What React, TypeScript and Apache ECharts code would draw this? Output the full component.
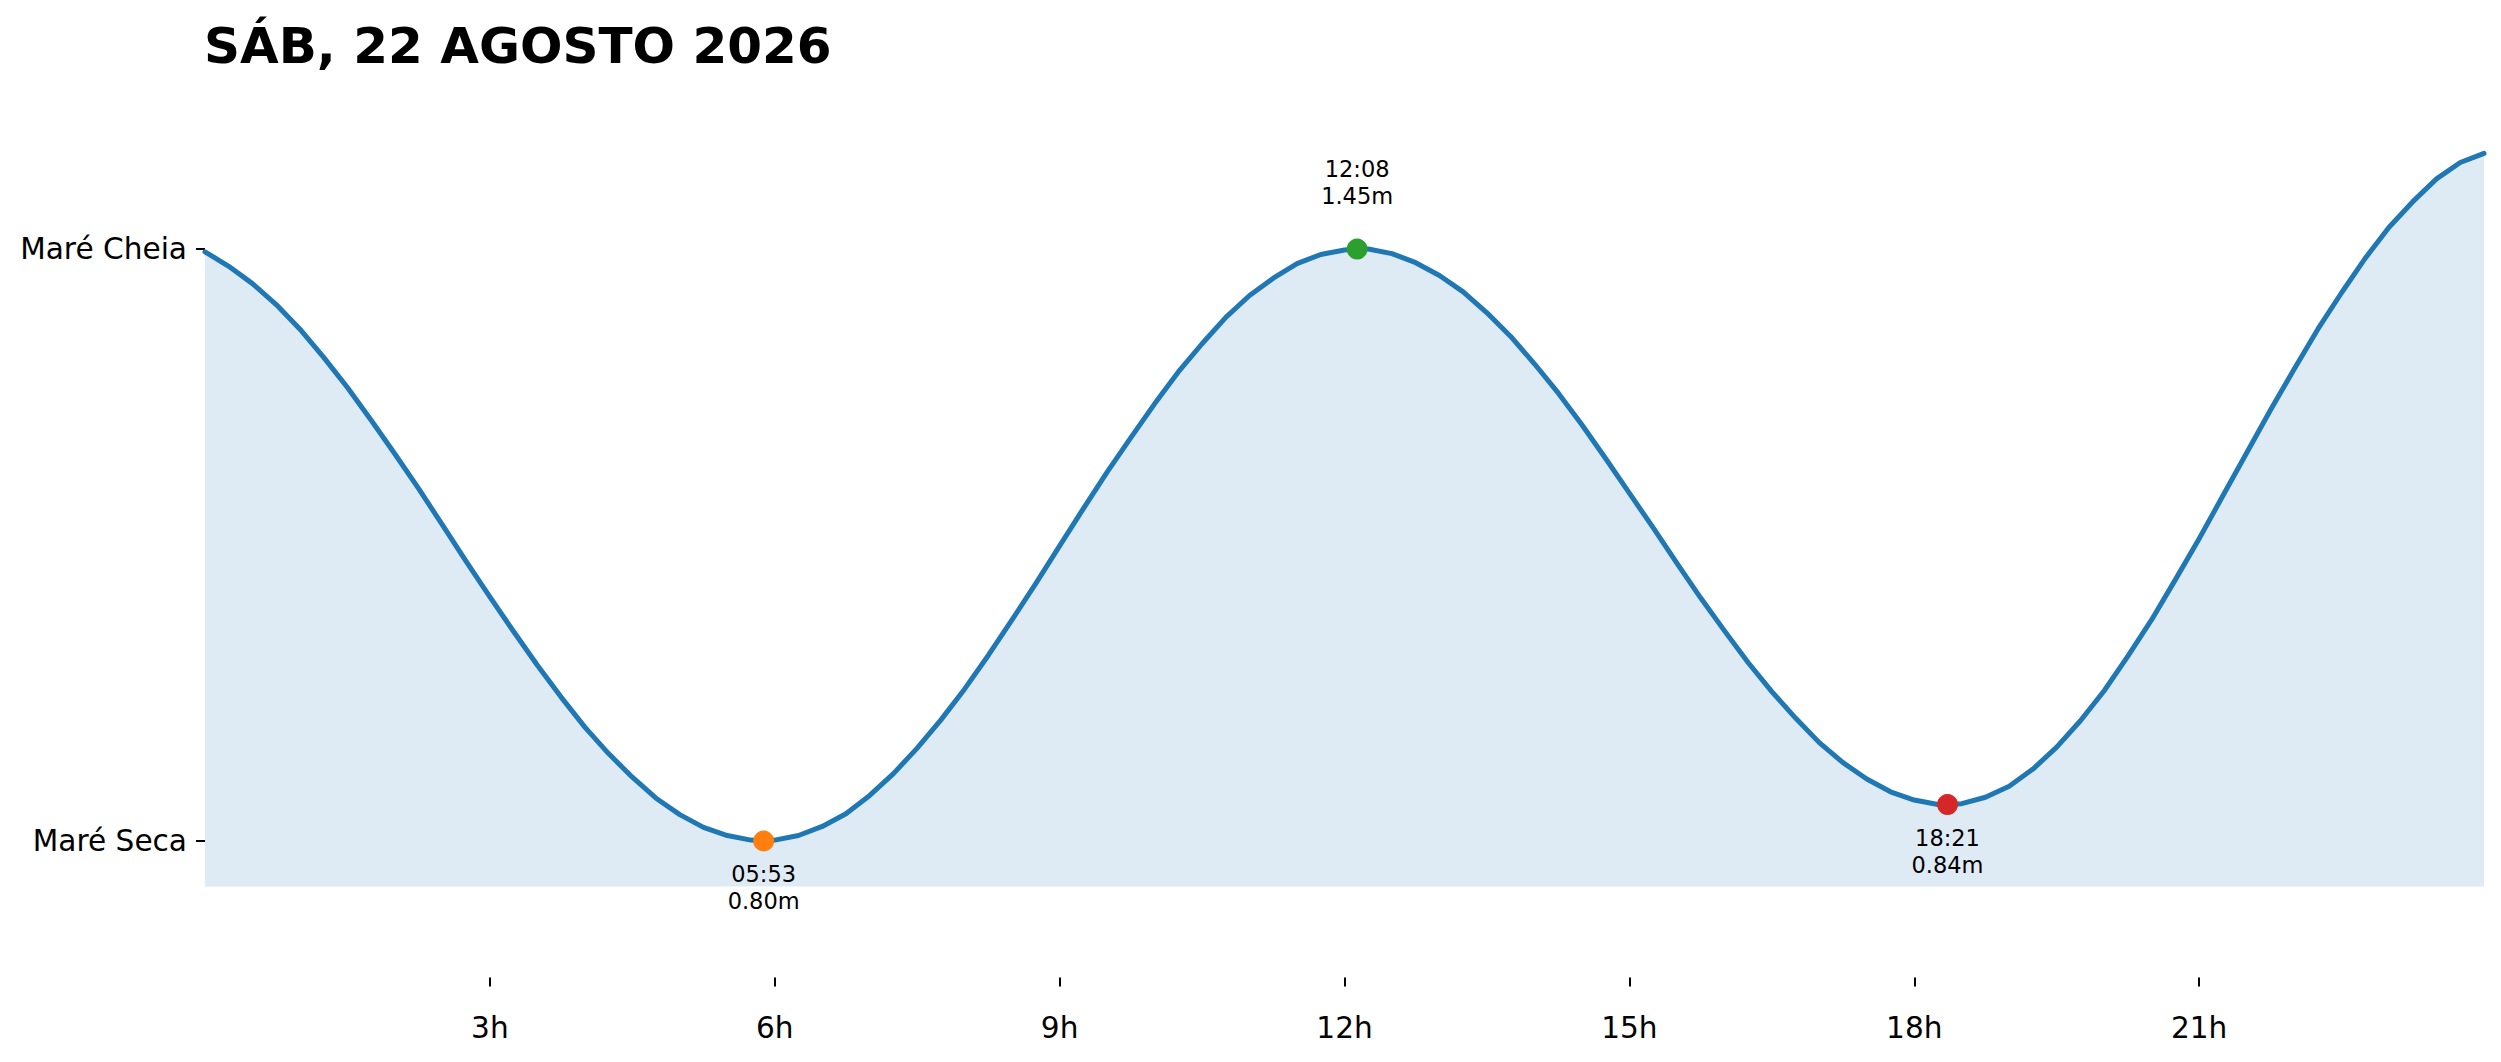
import React, { useEffect, useRef } from "react";
import * as echarts from "echarts";

const chartTitle = "SÁB, 22 AGOSTO 2026";

// Tide curve (hours, metres)
const times = [
  0, 0.25, 0.5, 0.75, 1, 1.25, 1.5, 1.75, 2, 2.25, 2.5, 2.75, 3, 3.25, 3.5, 3.75,
  4, 4.25, 4.5, 4.75, 5, 5.25, 5.5, 5.75, 5.883, 6, 6.25, 6.5, 6.75, 7, 7.25, 7.5,
  7.75, 8, 8.25, 8.5, 8.75, 9, 9.25, 9.5, 9.75, 10, 10.25, 10.5, 10.75, 11, 11.25,
  11.5, 11.75, 12, 12.133, 12.25, 12.5, 12.75, 13, 13.25, 13.5, 13.75, 14, 14.25,
  14.5, 14.75, 15, 15.25, 15.5, 15.75, 16, 16.25, 16.5, 16.75, 17, 17.25, 17.5,
  17.75, 18, 18.25, 18.35, 18.5, 18.75, 19, 19.25, 19.5, 19.75, 20, 20.25, 20.5,
  20.75, 21, 21.25, 21.5, 21.75, 22, 22.25, 22.5, 22.75, 23, 23.25, 23.5, 23.75, 24,
];

const heights = [
  1.447, 1.431, 1.412, 1.389, 1.362, 1.331, 1.298, 1.262, 1.225, 1.187, 1.147,
  1.107, 1.068, 1.03, 0.993, 0.958, 0.925, 0.896, 0.87, 0.847, 0.829, 0.815,
  0.806, 0.801, 0.8, 0.801, 0.806, 0.816, 0.83, 0.85, 0.874, 0.902, 0.933, 0.967,
  1.004, 1.043, 1.083, 1.124, 1.165, 1.205, 1.243, 1.28, 1.315, 1.346, 1.375,
  1.399, 1.418, 1.434, 1.444, 1.449, 1.45, 1.45, 1.445, 1.435, 1.421, 1.403,
  1.38, 1.354, 1.324, 1.292, 1.257, 1.22, 1.182, 1.144, 1.105, 1.067, 1.031,
  0.996, 0.964, 0.935, 0.908, 0.886, 0.868, 0.854, 0.845, 0.84, 0.84, 0.841,
  0.848, 0.86, 0.879, 0.903, 0.932, 0.965, 1.003, 1.043, 1.087, 1.132, 1.179,
  1.226, 1.273, 1.318, 1.362, 1.402, 1.44, 1.474, 1.502, 1.527, 1.545, 1.555,
];

const extremeTimes = [5.883, 12.133, 18.35];
const extremeHeights = [0.8, 1.45, 0.84];
const extremeLabels = ["05:53", "12:08", "18:21"];
const extremeColors = ["#ff7f0e", "#2ca02c", "#d62728"];
const extremeIsHigh = [false, true, false];

const xTicks = [3, 6, 9, 12, 15, 18, 21];
const yTickValues = [0.8, 1.45];
const yTickLabels = ["Maré Seca", "Maré Cheia"];

const FONT = "DejaVu Sans";

export default function App() {
  const ref = useRef<HTMLDivElement>(null);

  useEffect(() => {
    if (!ref.current) return;
    const chart = echarts.init(ref.current, undefined, { renderer: "svg" });

    const lineData = times.map((t, i) => [t, heights[i]]);
    const pointData = extremeTimes.map((t, i) => ({
      value: [t, extremeHeights[i]],
      itemStyle: { color: extremeColors[i], opacity: 1 },
      label: {
        show: true,
        position: extremeIsHigh[i] ? "top" : "bottom",
        distance: extremeIsHigh[i] ? 29.5 : 9.5,
        color: "#000000",
        fontFamily: FONT,
        fontSize: 22.5,
        lineHeight: 27,
        formatter: `${extremeLabels[i]}\n${extremeHeights[i].toFixed(2)}m`,
      },
    }));

    chart.setOption({
      animation: false,
      backgroundColor: "#ffffff",
      title: {
        text: chartTitle,
        left: 204,
        top: 21,
        padding: 0,
        textStyle: {
          fontFamily: FONT,
          fontSize: 50,
          fontWeight: "bold",
          color: "#000000",
        },
      },
      grid: { left: 205, right: 17, top: 76, bottom: 84.4, containLabel: false },
      xAxis: {
        type: "value",
        min: 0,
        max: 24,
        interval: 3,
        axisLine: { show: false },
        splitLine: { show: false },
        axisTick: {
          show: true,
          length: 9,
          customValues: xTicks,
          lineStyle: { color: "#000000", width: 2 },
        },
        axisLabel: {
          show: true,
          customValues: xTicks,
          margin: 35,
          fontFamily: FONT,
          fontSize: 29.6,
          color: "#000000",
          formatter: (v: number) => `${v}h`,
        },
      },
      yAxis: {
        type: "value",
        min: 0.65,
        max: 1.64,
        axisLine: { show: false },
        splitLine: { show: false },
        axisTick: {
          show: true,
          length: 9,
          customValues: yTickValues,
          lineStyle: { color: "#000000", width: 2 },
        },
        axisLabel: {
          show: true,
          customValues: yTickValues,
          margin: 18,
          fontFamily: FONT,
          fontSize: 29.6,
          color: "#000000",
          formatter: (v: number) => {
            const i = yTickValues.findIndex((y) => Math.abs(y - v) < 1e-6);
            return i >= 0 ? yTickLabels[i] : "";
          },
        },
      },
      series: [
        {
          type: "line",
          data: lineData,
          smooth: false,
          showSymbol: false,
          z: 2,
          lineStyle: { color: "#1f77b4", width: 5, opacity: 1, join: "round", cap: "round" },
          areaStyle: { color: "rgba(31,119,180,0.15)", opacity: 1, origin: 0.75 },
          silent: true,
        },
        {
          type: "scatter",
          data: pointData,
          symbol: "circle",
          symbolSize: 21,
          z: 3,
          silent: true,
          itemStyle: { opacity: 1 },
        },
      ],
    });

    return () => {
      chart.dispose();
    };
  }, []);

  return (
    <div
      ref={ref}
      style={{ position: "fixed", left: 0, top: 0, width: 2501, height: 1062, background: "#fff" }}
    />
  );
}
